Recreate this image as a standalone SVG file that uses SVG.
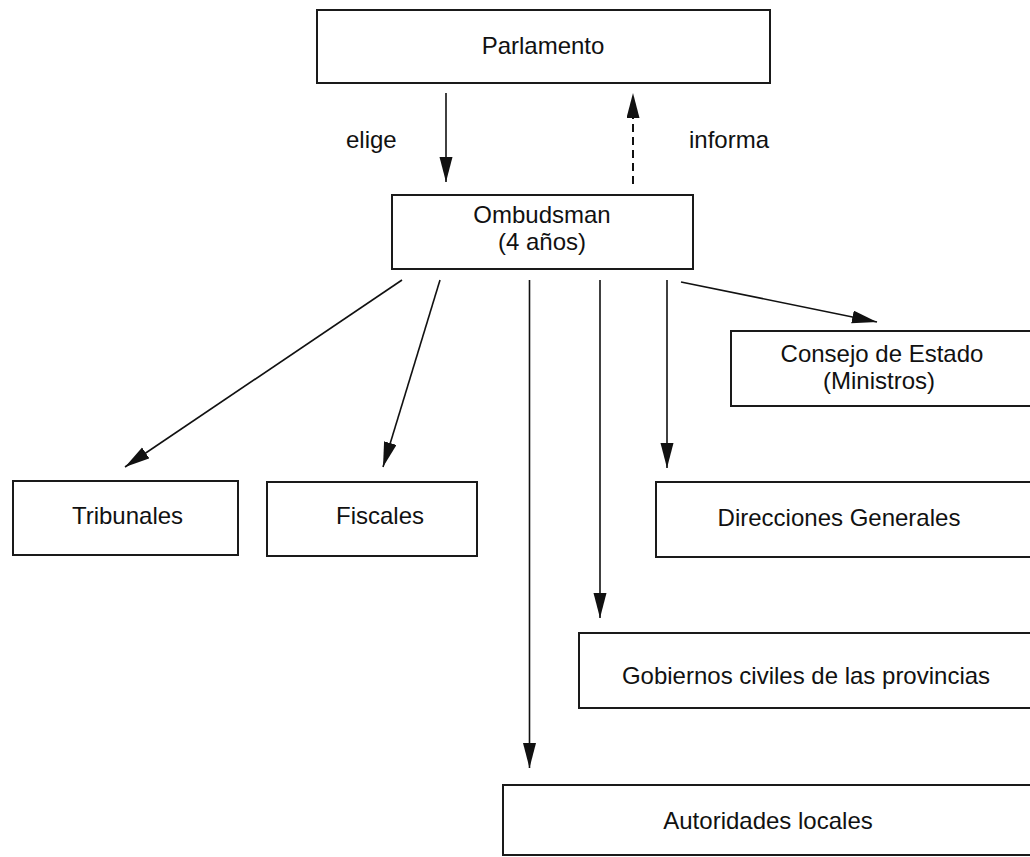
<svg xmlns="http://www.w3.org/2000/svg" width="1030" height="857" viewBox="0 0 1030 857">
  <style>
    .box { fill: #ffffff; stroke: #1a1a1a; stroke-width: 2; }
    .lbl { font-family: "Liberation Sans", Arial, sans-serif; font-size: 24px; fill: #111111; }
    .c { text-anchor: middle; }
    .edge { stroke: #111111; stroke-width: 1.6; fill: none; marker-end: url(#arr); }
    .dash { stroke-width: 2; stroke-dasharray: 8 5; }
  </style>
  <defs>
    <marker id="arr" markerUnits="userSpaceOnUse" markerWidth="26" markerHeight="14" refX="25" refY="6.5" orient="auto">
      <path d="M0,0 L25,6.5 L0,13 Z" fill="#111111"/>
    </marker>
  </defs>
  <rect width="1030" height="857" fill="#ffffff"/>

  <g id="connectors">
    <line class="edge" x1="446" y1="93" x2="446" y2="182"/>
    <line class="edge dash" x1="633" y1="184" x2="633" y2="93"/>
    <line class="edge" x1="402" y1="280" x2="125" y2="467"/>
    <line class="edge" x1="440" y1="280" x2="383" y2="467"/>
    <line class="edge" x1="529.5" y1="280" x2="529.5" y2="768"/>
    <line class="edge" x1="600" y1="280" x2="600" y2="618"/>
    <line class="edge" x1="667" y1="280" x2="667" y2="468"/>
    <line class="edge" x1="681" y1="282" x2="877" y2="322"/>
    <text class="lbl" x="346" y="148">elige</text>
    <text class="lbl" x="689" y="148">informa</text>
  </g>

  <g id="parlamento">
    <rect class="box" x="317" y="10" width="453" height="73"/>
    <text class="lbl c" x="543" y="54">Parlamento</text>
  </g>

  <g id="ombudsman">
    <rect class="box" x="392" y="195" width="301" height="74"/>
    <text class="lbl c" x="542" y="223">Ombudsman</text>
    <text class="lbl c" x="542" y="250">(4 años)</text>
  </g>

  <g id="consejo">
    <rect class="box" x="731" y="331" width="320" height="75"/>
    <text class="lbl c" x="882" y="362">Consejo de Estado</text>
    <text class="lbl c" x="879" y="389">(Ministros)</text>
  </g>

  <g id="tribunales">
    <rect class="box" x="13" y="481" width="225" height="74"/>
    <text class="lbl c" x="127.5" y="524">Tribunales</text>
  </g>

  <g id="fiscales">
    <rect class="box" x="267" y="482" width="210" height="74"/>
    <text class="lbl c" x="380" y="524">Fiscales</text>
  </g>

  <g id="direcciones">
    <rect class="box" x="656" y="482" width="395" height="75"/>
    <text class="lbl c" x="839" y="526">Direcciones Generales</text>
  </g>

  <g id="gobiernos">
    <rect class="box" x="579" y="633" width="472" height="75"/>
    <text class="lbl c" x="806" y="684">Gobiernos civiles de las provincias</text>
  </g>

  <g id="autoridades">
    <rect class="box" x="503" y="785" width="548" height="70"/>
    <text class="lbl c" x="768" y="829">Autoridades locales</text>
  </g>
</svg>
